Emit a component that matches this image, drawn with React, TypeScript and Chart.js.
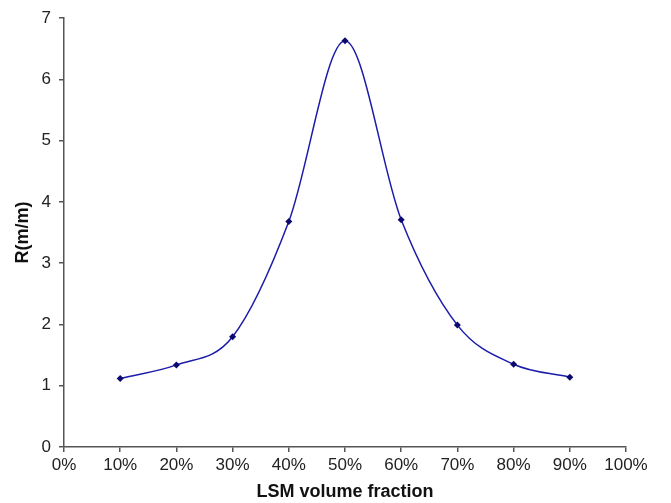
import React, { useEffect, useRef } from "react";
import { Chart, registerables } from "chart.js";

Chart.register(...registerables);

const fractions = [10, 20, 30, 40, 50, 60, 70, 80, 90];
const rValues = [1.12, 1.34, 1.8, 3.68, 6.63, 3.71, 1.99, 1.35, 1.14];
const xTitle = "LSM volume fraction";
const yTitle = "R(m/m)";

export default function App() {
  const ref = useRef<HTMLCanvasElement>(null);
  useEffect(() => {
    const ctx = ref.current!;
    const axisColor = "#555555";
    const chart = new Chart(ctx, {
      type: "line",
      data: {
        datasets: [
          {
            data: fractions.map((f, i) => ({ x: f, y: rValues[i] })),
            borderColor: "#1c1caa",
            borderWidth: 1.5,
            backgroundColor: "#0a0a6e",
            pointStyle: "rectRot",
            pointRadius: 3.5,
            pointBorderWidth: 0,
            pointBackgroundColor: "#0a0a6e",
            tension: 0.4,
            cubicInterpolationMode: "monotone",
          },
        ],
      },
      options: {
        animation: false,
        responsive: false,
        layout: { padding: { top: 17, right: 45, left: 12, bottom: 0 } },
        plugins: { legend: { display: false }, tooltip: { enabled: false } },
        scales: {
          x: {
            type: "linear",
            min: 0,
            max: 100,
            ticks: {
              stepSize: 10,
              callback: (v: any) => v + "%",
              color: "#222",
              font: { family: "Liberation Sans, Arial", size: 17 },
              padding: 3,
              maxRotation: 0,
              autoSkip: false,
            },
            grid: { drawOnChartArea: false, drawTicks: true, tickLength: 5, color: axisColor, lineWidth: 1.5 },
            border: { display: true, color: axisColor, width: 1.5 },
            title: {
              display: true,
              text: xTitle,
              color: "#111",
              font: { family: "Liberation Sans, Arial", size: 18, weight: "bold" },
              padding: { top: 8, bottom: 0 },
            },
            afterFit: (s: any) => { s.height = 56; },
          },
          y: {
            min: 0,
            max: 7,
            ticks: {
              stepSize: 1,
              color: "#222",
              font: { family: "Liberation Sans, Arial", size: 17 },
              padding: 8,
            },
            grid: { drawOnChartArea: false, drawTicks: true, tickLength: 5, color: axisColor, lineWidth: 1.5 },
            border: { display: true, color: axisColor, width: 1.5 },
            title: {
              display: true,
              text: yTitle,
              color: "#111",
              font: { family: "Liberation Sans, Arial", size: 18, weight: "bold" },
              padding: { top: 0, bottom: 4 },
            },
            afterFit: (s: any) => { s.width = 52; },
          },
        },
      },
    });
    return () => chart.destroy();
  }, []);
  return (
    <div style={{ position: "absolute", left: 0, top: 0, width: 671, height: 503, background: "#fff" }}>
      <canvas ref={ref} width={671} height={503} style={{ width: 671, height: 503 }} />
    </div>
  );
}
